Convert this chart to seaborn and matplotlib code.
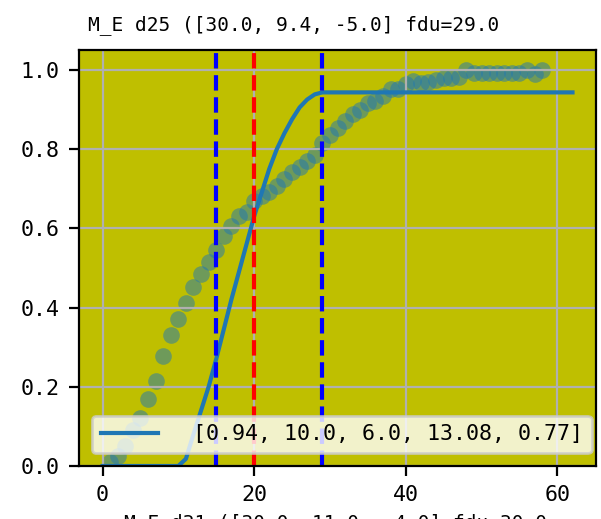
import numpy as np
import pandas as pd
import matplotlib
matplotlib.use("Agg")
import matplotlib.pyplot as plt
import seaborn as sns

# observed cumulative fraction (points)
obs_x = list(range(1, 59))
obs_y = [0.01, 0.025, 0.05, 0.09, 0.12, 0.17, 0.215, 0.278, 0.33, 0.371,
         0.412, 0.452, 0.484, 0.515, 0.546, 0.58, 0.607, 0.63, 0.64, 0.668,
         0.682, 0.692, 0.706, 0.724, 0.743, 0.755, 0.77, 0.785, 0.816, 0.835,
         0.852, 0.87, 0.889, 0.899, 0.915, 0.921, 0.933, 0.951, 0.952, 0.965,
         0.971, 0.966, 0.97, 0.975, 0.979, 0.979, 0.983, 1.0, 0.991, 0.991,
         0.991, 0.991, 0.991, 0.991, 0.991, 1.0, 0.99, 1.0]

# fitted curve
fit_x = [0, 10, 11, 12, 13, 14, 15, 16, 17, 18, 19, 20, 21, 22, 23, 24, 25,
         26, 27, 28, 29, 62]
fit_y = [0.0, 0.0, 0.018, 0.08, 0.14, 0.2, 0.27, 0.345, 0.42, 0.49, 0.56,
         0.63, 0.69, 0.75, 0.8, 0.84, 0.875, 0.905, 0.925, 0.938, 0.943, 0.943]
fit_label = "[0.94, 10.0, 6.0, 13.08, 0.77]"

# marker lines
blue_lines = [15, 29]
red_line = 20

title = "M_E d25 ([30.0, 9.4, -5.0] fdu=29.0"
next_title = "M_E d31 ([30.0, 11.0, -4.0] fdu=30.0"

plt.rcParams['font.family'] = ['DejaVu Sans Mono']

obs = pd.DataFrame({'x': obs_x, 'y': obs_y})
fit = pd.DataFrame({'x': fit_x, 'y': fit_y})

fig = plt.figure(figsize=(601 / 200, 519 / 200), dpi=200)
ax = fig.add_axes([79 / 601, (519 - 466) / 519, 517 / 601, 416 / 519])
ax.set_facecolor('y')

sns.scatterplot(data=obs, x='x', y='y', ax=ax, s=36, alpha=0.5,
                color='C0', linewidth=0, legend=False)
sns.lineplot(data=fit, x='x', y='y', ax=ax, color='C0', lw=1.5,
             label=fit_label)

for b in blue_lines:
    ax.axvline(b, color='b', ls='--', lw=1.5)
ax.axvline(red_line, color='r', ls='--', lw=1.5)

ax.set_ylim(0, 1.05)
ax.set_xlim(-3.1, 65.1)
ax.set_xticks([0, 20, 40, 60])
ax.grid(True)
ax.set_xlabel('')
ax.set_ylabel('')
ax.tick_params(labelsize=7.8)

ax.set_title(title, fontsize=7.0, x=0.415, pad=7)
ax.legend(loc='lower left', fontsize=7.8, handlelength=2.66,
          handletextpad=1.6, borderaxespad=0.6)

fig.text(336 / 601, 6 / 519, next_title, fontsize=7.0, ha='center', va='top')

fig.savefig('out.png', dpi=200)
